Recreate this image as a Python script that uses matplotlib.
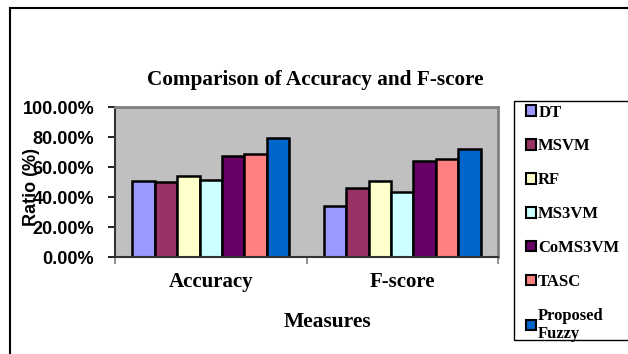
import matplotlib
matplotlib.use('Agg')
import matplotlib.pyplot as plt
from matplotlib.lines import Line2D
from matplotlib.patches import Rectangle
import numpy as np

# data
measures = ['Accuracy', 'F-score']
methods = ['DT', 'MSVM', 'RF', 'MS3VM', 'CoMS3VM', 'TASC', 'Proposed\nFuzzy']
dt = [50.7, 34.2]
msvm = [50.2, 46.2]
rf = [53.8, 50.7]
ms3vm = [51.1, 43.3]
coms3vm = [67.6, 64.0]
tasc = [68.4, 65.3]
fuzzy = [79.1, 72.0]
yticks = [0, 20, 40, 60, 80, 100]

series = [dt, msvm, rf, ms3vm, coms3vm, tasc, fuzzy]
colors = ['#9999FF', '#993366', '#FFFFCC', '#CCFFFF', '#660066', '#FF8080', '#0066CC']

W, H = 628, 354
fig = plt.figure(figsize=(W / 100, H / 100), dpi=100)
ax = fig.add_axes([115 / W, 1 - 257 / H, 383 / W, 150 / H])
ax.set_facecolor('#C0C0C0')

serif = 'Liberation Serif'
sans = 'Liberation Sans'

# bars
x = np.arange(len(measures))
width = 0.117
handles = []
for i, (vals, c) in enumerate(zip(series, colors)):
    off = (i - (len(series) - 1) / 2) * width
    b = ax.bar(x + off, vals, width, color=c, edgecolor='black', linewidth=1.8,
               label=methods[i])
    handles.append(b)

ax.set_xlim(-0.5, 1.5)
ax.set_ylim(0, 100)
ax.set_yticks(yticks)
ax.set_yticklabels(['%.2f%%' % v for v in yticks], fontfamily=sans,
                   fontweight='bold', fontsize=13)
ax.tick_params(axis='y', direction='out', length=5, width=1.2, pad=10)
ax.set_xticks(x)
ax.set_xticklabels(measures, fontfamily=serif, fontweight='bold', fontsize=15)
ax.set_xticks([-0.5, 0.5, 1.5], minor=True)
ax.tick_params(axis='x', which='major', length=0, pad=11)
ax.tick_params(axis='x', which='minor', direction='out', length=5, width=1.2,
               color='#808080')

for s in ['top', 'right']:
    ax.spines[s].set_color('#808080')
    ax.spines[s].set_linewidth(2)
for s in ['left', 'bottom']:
    ax.spines[s].set_color('#333333')
    ax.spines[s].set_linewidth(1.5)

# texts
fig.text(315 / W, 1 - 80 / H, 'Comparison of Accuracy and F-score',
         fontfamily=serif, fontweight='bold', fontsize=15.3,
         ha='center', va='center')
fig.text(327 / W, 1 - 322 / H, 'Measures', fontfamily=serif,
         fontweight='bold', fontsize=15.5, ha='center', va='center')
fig.text(32 / W, 1 - 187 / H, 'Ratio (%)', fontfamily=sans,
         fontweight='bold', fontsize=13, rotation=90, ha='center', va='center')

# legend (frame drawn separately so it runs off the right edge)
leg = fig.legend(handles=handles, loc='upper left',
                 bbox_to_anchor=(524 / W, 1 - 103 / H),
                 prop={'family': serif, 'weight': 'bold', 'size': 12},
                 frameon=False,
                 handlelength=0.6, handleheight=0.6, handletextpad=0.15,
                 labelspacing=1.07, borderpad=0.1, borderaxespad=0)
for p in leg.get_patches():
    p.set_linewidth(1.5)
fig.add_artist(Rectangle((514 / W, 1 - 340 / H), 130 / W, 239 / H,
                         transform=fig.transFigure, fill=False,
                         edgecolor='black', lw=1))

# outer frame
fig.add_artist(Line2D([10 / W, 10 / W], [0, 1 - 8 / H], transform=fig.transFigure,
                      color='black', lw=1.5))
fig.add_artist(Line2D([10 / W, 1], [1 - 8 / H, 1 - 8 / H], transform=fig.transFigure,
                      color='black', lw=1.5))

fig.savefig('out.png', dpi=100)
